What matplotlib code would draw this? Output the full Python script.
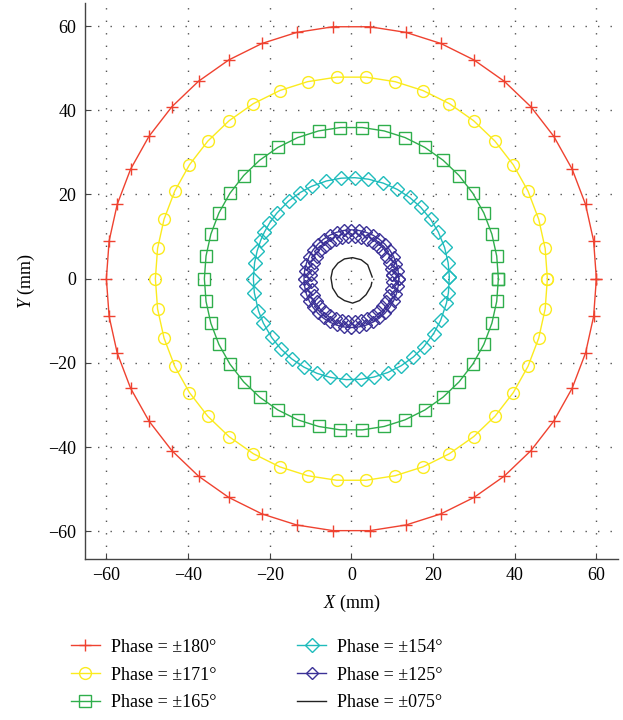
#! /usr/bin/env python3
import numpy as np
import matplotlib
matplotlib.use('Agg')
import matplotlib.pyplot as plt

plt.rcParams['font.family'] = 'Liberation Serif'
plt.rcParams['mathtext.fontset'] = 'custom'
plt.rcParams['mathtext.it'] = 'Liberation Serif:italic'
plt.rcParams['mathtext.rm'] = 'Liberation Serif'

#############################################
## marker positions (angle in deg, radius in mm)
ang_outer = [0, 8.6, 17.1, 25.7, 34.3, 42.9, 51.4, 60.0, 68.6, 77.1, 85.7,
             94.3, 102.9, 111.4, 120.0, 128.6, 137.1, 145.7, 154.3, 162.9, 171.4,
             180.0, 188.6, 197.1, 205.7, 214.3, 222.9, 231.4, 240.0, 248.6, 257.1,
             265.7, 274.3, 282.9, 291.4, 300.0, 308.6, 317.1, 325.7, 334.3, 342.9, 351.4]
r180 = 60.0
r171 = 48.0
r165 = 36.0

ang154 = [1, 9, 18, 27.5, 36, 45, 53.5, 62, 71, 80, 88,
          96, 104.8, 114, 121.5, 129.8, 139.6, 146.7, 152.5, 157.6, 164, 171, 180,
          188, 198.6, 206, 215.5, 224, 232.5, 241, 249.5, 257.7, 267,
          275.7, 283.4, 291.8, 300.5, 309.3, 317.4, 327, 335.6, 346, 352]
r154 = 24.0

ang125_a = [0, 9, 18, 27, 36, 45, 54, 63, 72, 81, 90, 99, 108, 117, 126, 135, 144, 153,
            162, 171, 180, 189, 198, 207, 216, 225, 234, 243, 252, 261, 270, 279, 288,
            297, 306, 315, 324, 333, 342, 351]
ang125_b = [4.5, 13.5, 22.5, 31.5, 40.5, 49.5, 58.5, 67.5, 76.5, 85.5, 94.5, 103.5,
            112.5, 121.5, 130.5, 139.5, 148.5, 157.5, 166.5, 175.5, 184.5, 193.5, 202.5,
            211.5, 220.5, 229.5, 238.5, 247.5, 256.5, 265.5, 274.5, 283.5, 292.5, 301.5,
            310.5, 319.5, 328.5, 337.5, 346.5, 355.5]
r125_a = 11.6
r125_b = 10.0

x075 = [5.1, 4.0, 2.4, 0.3, -1.7, -3.3, -4.6, -5.0, -4.6, -3.3, -1.7, 0.3, 2.0, 3.6, 4.8, 5.0]
y075 = [0.4, 3.3, 4.5, 5.0, 4.7, 3.7, 2.1, 0.2, -2.2, -4.2, -5.2, -5.8, -5.2, -3.8, -1.8, -0.9]

ticks = [-60, -40, -20, 0, 20, 40, 60]


def ring(ang, r, close=True):
    a = np.deg2rad(np.array(ang, dtype=float))
    if close:
        a = np.append(a, a[0])
    return r * np.cos(a), r * np.sin(a)


fig = plt.figure(figsize=(6.23, 7.2), dpi=100)
ax1 = fig.add_axes([0.136, 0.224, 0.856, 0.772])

x, y = ring(ang_outer, r180)
ax1.plot(x, y, color='#ef4230', lw=1.0, marker='+', ms=9, mew=1.0, label='Phase = ±180°')
x, y = ring(ang_outer, r171)
ax1.plot(x, y, color='#fbeb1e', lw=1.0, marker='o', ms=8.5, mew=1.0, mfc='none', label='Phase = ±171°')
x, y = ring(ang_outer, r165)
ax1.plot(x, y, color='#2fae4c', lw=1.0, marker='s', ms=8.5, mew=1.0, mfc='none', label='Phase = ±165°')
x, y = ring(ang154, r154)
ax1.plot(x, y, color='#1fbcbc', lw=1.0, marker='D', ms=7.5, mew=1.0, mfc='none', label='Phase = ±154°')
x, y = ring(ang125_a, r125_a)
ax1.plot(x, y, color='#3b3197', lw=1.0, marker='D', ms=6.5, mew=1.0, mfc='none', label='Phase = ±125°')
x, y = ring(ang125_b, r125_b)
ax1.plot(x, y, color='#3b3197', lw=0, marker='D', ms=6.5, mew=1.0, mfc='none')
ax1.plot(x075, y075, color='#222222', lw=1.0, label='Phase = ±075°')

ax1.set_xlim(-65.3, 65.3)
ax1.set_ylim(-66.5, 65.5)
ax1.set_xticks(ticks)
ax1.set_yticks(ticks)
ax1.grid(True, color='#555555', linestyle=(0, (1, 8)), linewidth=1.0)
for s in ['top', 'right']:
    ax1.spines[s].set_visible(False)
for s in ['left', 'bottom']:
    ax1.spines[s].set_color('#444444')
    ax1.spines[s].set_linewidth(1.0)
ax1.tick_params(direction='in', length=4, color='#444444', labelsize=13, pad=6)

ax1.set_xlabel(r'$\mathit{X}$ (mm)', fontsize=13, labelpad=6)
ax1.set_ylabel(r'$\mathit{Y}$ (mm)', fontsize=13, labelpad=8)

handles, labels = ax1.get_legend_handles_labels()
fig.legend(handles, labels, ncol=2, loc='center', bbox_to_anchor=(0.412, 0.0625),
           frameon=False, fontsize=13, handlelength=1.6, handletextpad=0.6,
           columnspacing=4.5, labelspacing=0.6)

fig.savefig('out.png', dpi=100)
